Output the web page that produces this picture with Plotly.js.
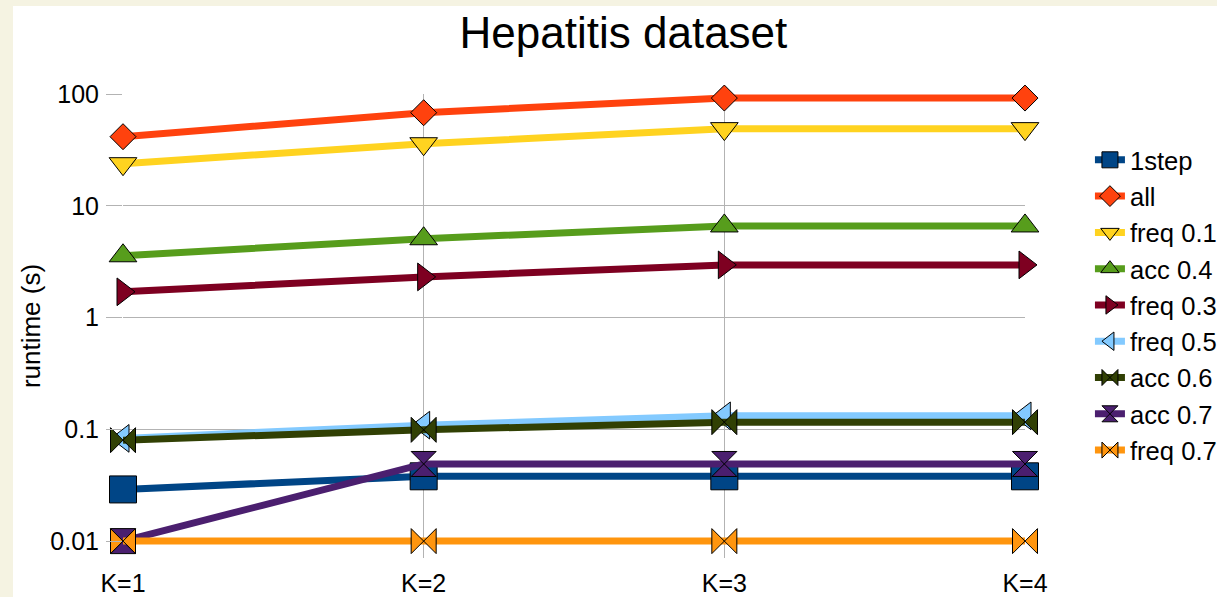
<!DOCTYPE html>
<html>
<head>
<meta charset="utf-8">
<script src="https://cdn.plot.ly/plotly-3.0.1.min.js"></script>
<style>
  html, body { margin: 0; padding: 0; background: #f5f3e2; width: 1217px; height: 597px; overflow: hidden; }
  #chart { position: absolute; left: 13px; top: 6px; width: 1204px; height: 591px; overflow: hidden; }
</style>
</head>
<body>
<div id="chart"></div>
<script>
const categories = ["K=1", "K=2", "K=3", "K=4"];

const seriesNames = ["1step", "all", "freq 0.1", "acc 0.4", "freq 0.3", "freq 0.5", "acc 0.6", "acc 0.7", "freq 0.7"];

const step1   = [0.029, 0.038, 0.038, 0.038];
const allRun  = [41.5, 68, 92, 92];
const freq01  = [23.8, 35.9, 49, 49];
const acc04   = [3.57, 5.07, 6.6, 6.6];
const freq03  = [1.70, 2.31, 2.96, 2.96];
const freq05  = [0.083, 0.109, 0.132, 0.132];
const acc06   = [0.080, 0.099, 0.116, 0.116];
const acc07   = [0.010, 0.049, 0.049, 0.049];
const freq07  = [0.010, 0.010, 0.010, 0.010];

const seriesValues = [step1, allRun, freq01, acc04, freq03, freq05, acc06, acc07, freq07];

const yTickVals = [0.01, 0.1, 1, 10, 100];
const yTickText = ["0.01", "0.1", "1", "10", "100"];

const colors  = ["#004586", "#ff420e", "#ffd320", "#579d1c", "#7e0021", "#83caff", "#314004", "#4b1f6f", "#ff950e"];
const symbols = ["square", "diamond", "triangle-down", "triangle-up", "triangle-right", "triangle-left", "bowtie", "hourglass", "bowtie"];
const sizes   = [27, 20, 24, 24, 24, 24, 25, 25, 25];

const FONT = "Liberation Sans, Arial, sans-serif";

const traces = seriesNames.map((name, i) => ({
  type: "scatter",
  mode: "lines+markers",
  name: name,
  x: categories,
  y: seriesValues[i],
  cliponaxis: false,
  line: { color: colors[i], width: 7 },
  marker: { symbol: symbols[i], size: sizes[i], color: colors[i], line: { color: "#000000", width: 1 } }
}));

const layout = {
  width: 1204,
  height: 591,
  paper_bgcolor: "#ffffff",
  plot_bgcolor: "#ffffff",
  margin: { l: 110, r: 192, t: 88, b: 39, autoexpand: false },
  font: { family: FONT, color: "#000000", size: 25 },
  title: {
    text: "Hepatitis dataset",
    font: { family: FONT, size: 44, color: "#000000" },
    xref: "container", x: 0.507, xanchor: "center",
    yref: "container", y: 0.955, yanchor: "middle"
  },
  xaxis: {
    type: "category",
    range: [0, 3],
    showgrid: true,
    gridcolor: "#b3b3b3",
    gridwidth: 1,
    showline: false,
    zeroline: false,
    ticks: "",
    ticklabelstandoff: 8,
    tickfont: { family: FONT, size: 25, color: "#000000" },
    automargin: false,
    fixedrange: true
  },
  yaxis: {
    type: "log",
    range: [-2.151, 2],
    tickvals: yTickVals,
    ticktext: yTickText,
    showgrid: true,
    gridcolor: "#b3b3b3",
    gridwidth: 1,
    showline: false,
    zeroline: false,
    ticks: "outside",
    ticklen: 16,
    tickcolor: "#b3b3b3",
    tickwidth: 1,
    ticklabelstandoff: 2,
    tickfont: { family: FONT, size: 25, color: "#000000" },
    title: { text: "runtime (s)", font: { family: FONT, size: 26, color: "#000000" }, standoff: 2 },
    automargin: false,
    fixedrange: true
  },
  legend: {
    x: 1.072, xanchor: "left",
    y: 0.908, yanchor: "top",
    font: { family: FONT, size: 25.6, color: "#000000" },
    bgcolor: "rgba(0,0,0,0)",
    borderwidth: 0,
    tracegroupgap: 0
  },
  showlegend: true
};

Plotly.newPlot("chart", traces, layout, { displayModeBar: false, staticPlot: true });
</script>
</body>
</html>
